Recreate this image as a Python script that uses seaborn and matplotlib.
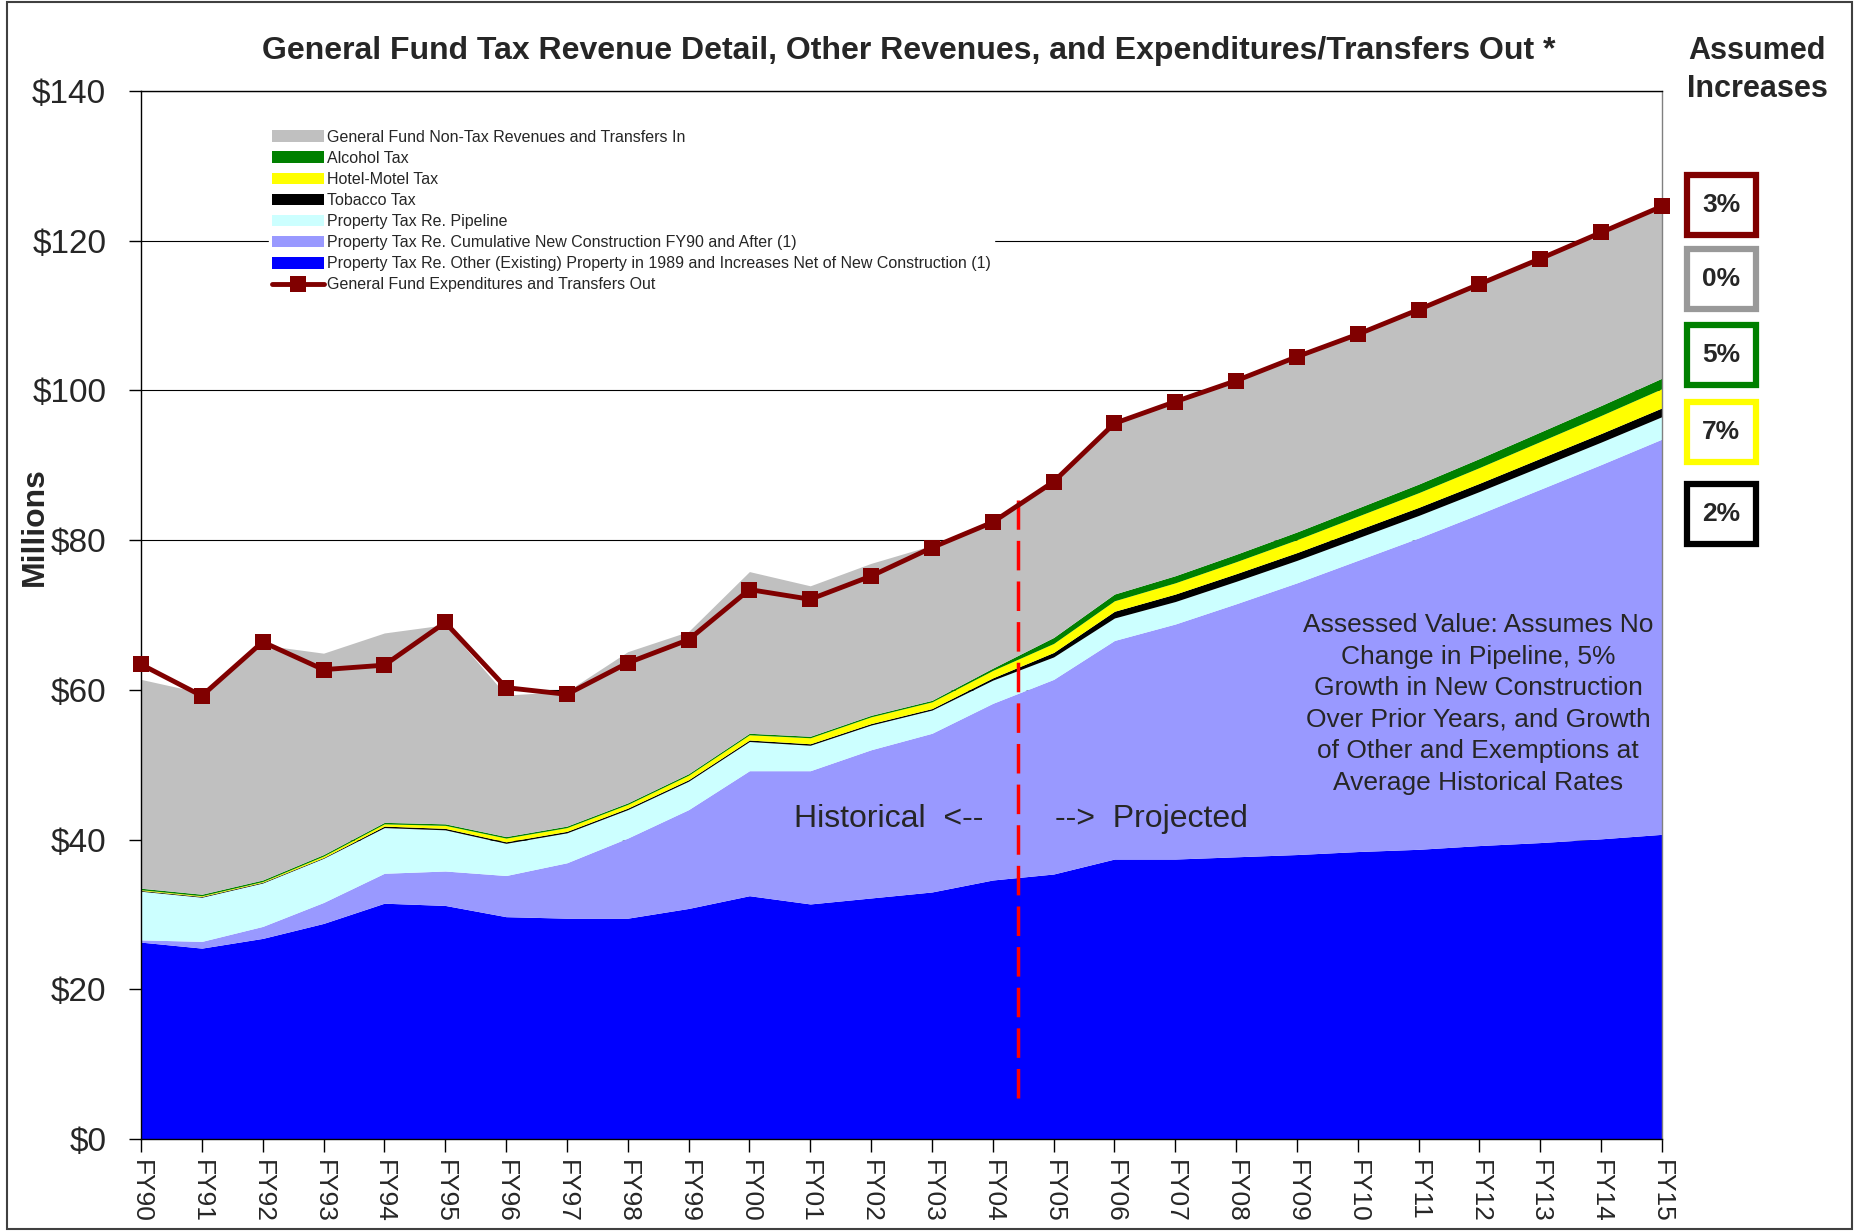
import numpy as np
import pandas as pd
import matplotlib
matplotlib.use("Agg")
import matplotlib.pyplot as plt
from matplotlib.patches import Patch, Rectangle
from matplotlib.lines import Line2D
import seaborn as sns

# fiscal years on the x axis
years = ["FY90", "FY91", "FY92", "FY93", "FY94", "FY95", "FY96", "FY97", "FY98",
         "FY99", "FY00", "FY01", "FY02", "FY03", "FY04", "FY05", "FY06", "FY07",
         "FY08", "FY09", "FY10", "FY11", "FY12", "FY13", "FY14", "FY15"]

# stacked layers ($ millions), bottom to top
existing = [26.3, 25.5, 26.8, 28.8, 31.5, 31.2, 29.7, 29.5, 29.5, 30.8, 32.5, 31.4, 32.2,
            33.0, 34.6, 35.4, 37.4, 37.4, 37.7, 38.0, 38.4, 38.7, 39.2, 39.6, 40.1, 40.7]
new_constr = [0.3, 0.9, 1.6, 2.8, 4.0, 4.6, 5.5, 7.4, 10.7, 13.2, 16.7, 17.8, 19.8,
              21.2, 23.6, 26.0, 29.2, 31.4, 33.8, 36.3, 38.9, 41.6, 44.3, 47.2, 50.0, 52.8]
pipeline = [6.5, 5.9, 5.8, 5.9, 6.1, 5.5, 4.3, 4.0, 3.8, 3.8, 3.9, 3.4, 3.3,
            3.1, 3.1, 3.0, 3.0, 3.0, 3.0, 3.0, 3.0, 3.0, 3.0, 3.0, 3.0, 3.0]
tobacco = [0.1, 0.1, 0.1, 0.1, 0.2, 0.2, 0.2, 0.2, 0.2, 0.2, 0.2, 0.2, 0.2,
           0.2, 0.3, 0.6, 0.9, 1.0, 1.02, 1.04, 1.06, 1.08, 1.1, 1.13, 1.15, 1.17]
hotel = [0.1, 0.1, 0.1, 0.2, 0.3, 0.4, 0.5, 0.5, 0.5, 0.6, 0.7, 0.8, 0.9,
         0.9, 1.0, 1.2, 1.4, 1.5, 1.6, 1.72, 1.84, 1.96, 2.1, 2.25, 2.41, 2.57]
alcohol = [0.2, 0.2, 0.2, 0.2, 0.2, 0.2, 0.2, 0.2, 0.2, 0.2, 0.2, 0.2, 0.2,
           0.2, 0.3, 0.8, 0.9, 0.95, 0.99, 1.04, 1.09, 1.15, 1.21, 1.27, 1.33, 1.4]
non_tax = [27.9, 26.9, 31.4, 26.9, 25.3, 26.6, 18.9, 18.0, 20.2, 19.0, 21.6, 20.1, 20.3,
           20.7, 19.9, 20.8, 23.1, 23.3, 23.3, 23.3, 23.3, 23.3, 23.3, 23.3, 23.3, 23.3]

# expenditures and transfers out line
expenditures = [63.4, 59.2, 66.4, 62.7, 63.3, 69.0, 60.3, 59.4, 63.6, 66.7, 73.4, 72.1, 75.2,
                79.0, 82.4, 87.8, 95.6, 98.5, 101.3, 104.5, 107.5, 110.8, 114.2, 117.6, 121.1, 124.6]

y_ticks = [0, 20, 40, 60, 80, 100, 120, 140]
y_tick_labels = ["$0", "$20", "$40", "$60", "$80", "$100", "$120", "$140"]

layer_names = ["Property Tax Re. Other (Existing) Property in 1989 and Increases Net of New Construction (1)",
               "Property Tax Re. Cumulative New Construction FY90 and After (1)",
               "Property Tax Re. Pipeline",
               "Tobacco Tax",
               "Hotel-Motel Tax",
               "Alcohol Tax",
               "General Fund Non-Tax Revenues and Transfers In"]
layer_colors = ["#0000FF", "#9999FF", "#CCFFFF", "#000000", "#FFFF00", "#008000", "#C0C0C0"]
line_name = "General Fund Expenditures and Transfers Out"
line_color = "#800000"

increase_labels = ["3%", "0%", "5%", "7%", "2%"]
increase_colors = ["#800000", "#999999", "#008000", "#FFFF00", "#000000"]

title = "General Fund Tax Revenue Detail, Other Revenues, and Expenditures/Transfers Out *"
note = ("Assessed Value: Assumes No\nChange in Pipeline, 5%\nGrowth in New Construction\n"
        "Over Prior Years, and Growth\nof Other and Exemptions at\nAverage Historical Rates")

sns.set_theme(style="white")
plt.rcParams["font.family"] = ["Liberation Sans", "DejaVu Sans"]

W, H = 1860, 1231
fig = plt.figure(figsize=(W / 100, H / 100), dpi=100)
ax = fig.add_axes([141 / W, 1 - 1139 / H, (1662 - 141) / W, (1139 - 91) / H])

x = np.arange(len(years))
ax.stackplot(x, existing, new_constr, pipeline, tobacco, hotel, alcohol, non_tax,
             colors=layer_colors, linewidth=0, zorder=2)

df = pd.DataFrame({"x": x, "exp": expenditures})
sns.lineplot(data=df, x="x", y="exp", ax=ax, color=line_color, linewidth=3.5,
             marker="s", markersize=12, markeredgewidth=0, zorder=5)
for ln in ax.lines:
    ln.set_clip_on(False)

# historical / projected divider
ax.plot([14.42, 14.42], [5.5, 85.3], color="red", linewidth=2.5,
        dashes=(8.5, 3.2), zorder=4)
ax.text(13.85, 42.7, "Historical  <--", fontsize=23, ha="right", va="center", zorder=6)
ax.text(15.03, 42.7, "-->  Projected", fontsize=23, ha="left", va="center", zorder=6)
ax.text(21.98, 58.1, note, fontsize=19, ha="center", va="center",
        linespacing=1.4, zorder=6)

ax.set_xlim(0, 25)
ax.set_ylim(0, 140)
ax.set_xticks(x)
ax.set_xticklabels(years, rotation=-90, fontsize=19, va="top", ha="center")
ax.set_yticks(y_ticks)
ax.set_yticklabels(y_tick_labels, fontsize=24)
ax.set_xlabel("")
ax.set_ylabel("")
ax.tick_params(axis="both", direction="out", length=9, width=1, color="black",
               left=True, bottom=True)
ax.tick_params(axis="y", pad=16)
ax.tick_params(axis="x", pad=6)
ax.set_axisbelow(True)
ax.grid(axis="y", color="black", linewidth=0.8)
ax.grid(axis="x", visible=False)
for s in ax.spines.values():
    s.set_color("black")
    s.set_linewidth(1)
ax.spines["right"].set_color("#808080")

handles = [Patch(facecolor=c, edgecolor="none") for c in layer_colors[::-1]]
labels = layer_names[::-1]
handles.append(Line2D([0], [0], color=line_color, linewidth=3.5, marker="s",
                      markersize=11, markeredgewidth=0))
labels.append(line_name)
leg = ax.legend(handles, labels, loc="upper left", bbox_to_anchor=(0.0842, 0.966),
                borderaxespad=0, borderpad=0.2, fontsize=11.5, handlelength=3.25,
                handleheight=0.75, handletextpad=0.2, labelspacing=0.38,
                frameon=True, fancybox=False)
leg.get_frame().set_facecolor("white")
leg.get_frame().set_edgecolor("white")
leg.get_frame().set_alpha(1)
leg.set_zorder(10)

fig.text(909 / W, 1 - 51 / H, title, fontsize=23, fontweight="bold",
         ha="center", va="center")
fig.text(1757 / W, 1 - 51 / H, "Assumed", fontsize=22, fontweight="bold",
         ha="center", va="center")
fig.text(1757 / W, 1 - 89 / H, "Increases", fontsize=22, fontweight="bold",
         ha="center", va="center")
fig.text(35 / W, 1 - 527 / H, "Millions", fontsize=23, fontweight="bold",
         rotation=90, ha="center", va="center")

# assumed increase boxes
box_centers = [205, 279, 355, 432, 514]
for lab, col, cy in zip(increase_labels, increase_colors, box_centers):
    bw, bh = 69, 60
    fig.patches.append(Rectangle(((1721 - bw / 2) / W, 1 - (cy + bh / 2) / H), bw / W, bh / H,
                                 transform=fig.transFigure, fill=True, facecolor="white",
                                 edgecolor=col, linewidth=4.5))
    fig.text(1721 / W, 1 - cy / H, lab, fontsize=19, fontweight="bold",
             ha="center", va="center")

# outer frame
fig.patches.append(Rectangle((7 / W, 2 / H), (1852 - 7) / W, (1229 - 2) / H,
                             transform=fig.transFigure, fill=False,
                             edgecolor="#404040", linewidth=1.5))

fig.savefig("out.png", dpi=100)
